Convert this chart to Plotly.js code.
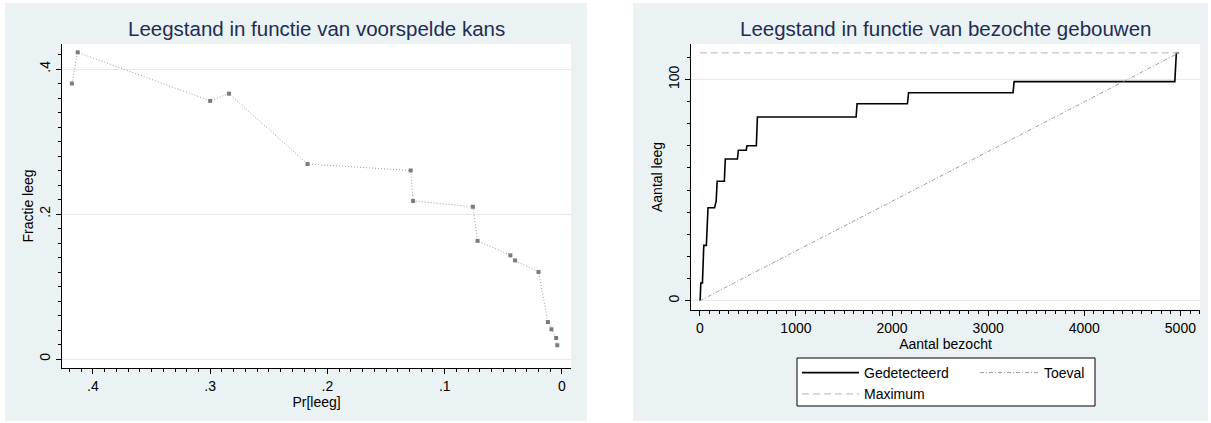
<!DOCTYPE html>
<html>
<head>
<meta charset="utf-8">
<script src="https://cdn.plot.ly/plotly-3.0.1.min.js"></script>
<style>html,body{margin:0;padding:0;background:#fff;}#chart{width:1211px;height:423px;}</style>
</head>
<body>
<div id="chart"></div>
<script>
// ---- data: left panel (voorspelde kans vs fractie leeg) ----
const predKans = [0.418, 0.413, 0.300, 0.284, 0.217, 0.129, 0.127, 0.076, 0.072, 0.044, 0.040, 0.020, 0.012, 0.009, 0.005, 0.004];
const fractieLeeg = [0.380, 0.423, 0.356, 0.366, 0.269, 0.260, 0.218, 0.210, 0.163, 0.143, 0.136, 0.120, 0.051, 0.041, 0.029, 0.019];

// ---- data: right panel (bezochte gebouwen vs aantal leeg) ----
const aantalBezocht = [3, 10, 27, 41, 68, 85, 153, 163, 170, 180, 255, 265, 391, 401, 483, 490, 588, 599, 1626, 1636, 2160, 2172, 3259, 3270, 4942, 4958, 4985];
const aantalLeeg    = [0, 8, 8, 25, 25, 42, 42, 45, 45, 54, 54, 64, 64, 68, 68, 70, 70, 83, 83, 89, 89, 94, 94, 99, 99, 112, 112];
const toevalX = [0, 4985];
const toevalY = [0, 112];
const maximumX = [0, 4985];
const maximumY = [112, 112];

// ---- tick labels ----
const leftXTickVals = [0.4, 0.3, 0.2, 0.1, 0];
const leftXTickText = ['.4', '.3', '.2', '.1', '0'];
const leftYTickVals = [0, 0.2, 0.4];
const leftYTickText = ['0', '.2', '.4'];
const rightXTickVals = [0, 1000, 2000, 3000, 4000, 5000];
const rightXTickText = ['0', '1000', '2000', '3000', '4000', '5000'];
const rightYTickVals = [0, 100];
const rightYTickText = ['0', '100'];

const titles = ['Leegstand in functie van voorspelde kans', 'Leegstand in functie van bezochte gebouwen'];

// ---- layout helpers ----
const W = 1211, H = 423;
const px = v => v / W;
const py = v => 1 - v / H;
const FONT = '"Liberation Sans", Arial, Helvetica, sans-serif';
const BG = '#eaf2f3';
const GRID = '#e3ebee';

const traces = [
  {
    x: predKans, y: fractieLeeg, xaxis: 'x', yaxis: 'y',
    type: 'scatter', mode: 'lines+markers', showlegend: false,
    line: {color: '#9a9a9a', width: 1, dash: '1px,2px'},
    marker: {symbol: 'square', size: 4, color: '#7c7c7c'}
  },
  {
    x: aantalBezocht, y: aantalLeeg, xaxis: 'x2', yaxis: 'y2',
    type: 'scatter', mode: 'lines', name: 'Gedetecteerd', legend: 'legend',
    line: {color: '#000000', width: 1.6}
  },
  {
    x: toevalX, y: toevalY, xaxis: 'x2', yaxis: 'y2',
    type: 'scatter', mode: 'lines', name: 'Toeval', legend: 'legend2',
    line: {color: '#9c9c9c', width: 1, dash: '4px,2px,1px,2px'}
  },
  {
    x: maximumX, y: maximumY, xaxis: 'x2', yaxis: 'y2',
    type: 'scatter', mode: 'lines', name: 'Maximum', legend: 'legend',
    line: {color: '#c4c4c4', width: 1.2, dash: '7px,4px'}
  }
];

function xAxis(domain, range, vals, text, minorDtick, titleText, anchor) {
  return {
    domain: domain, range: range, anchor: anchor,
    tickmode: 'array', tickvals: vals, ticktext: text,
    ticks: 'outside', ticklen: 5, tickwidth: 1, tickcolor: '#000000',
    minor: {ticks: 'outside', ticklen: 3, tickwidth: 1, tickcolor: '#000000', tick0: 0, dtick: minorDtick, showgrid: false},
    showline: true, linecolor: '#000000', linewidth: 1,
    showgrid: false, zeroline: false,
    tickfont: {family: FONT, size: 14, color: '#000'},
    title: {text: titleText, font: {family: FONT, size: 14, color: '#000'}, standoff: 0},
    fixedrange: true
  };
}
function yAxis(domain, range, vals, text, minorDtick, titleText, anchor) {
  return {
    domain: domain, range: range, anchor: anchor,
    tickmode: 'array', tickvals: vals, ticktext: text, tickangle: -90,
    ticks: 'outside', ticklen: 5, tickwidth: 1, tickcolor: '#000000',
    minor: {ticks: 'outside', ticklen: 3, tickwidth: 1, tickcolor: '#000000', tick0: 0, dtick: minorDtick, showgrid: false},
    showline: true, linecolor: '#000000', linewidth: 1,
    showgrid: true, gridcolor: GRID, gridwidth: 1, zeroline: false,
    tickfont: {family: FONT, size: 14, color: '#000'},
    title: {text: titleText, font: {family: FONT, size: 14, color: '#000'}, standoff: 0},
    fixedrange: true
  };
}

const gapShape = (x0, x1, y0, y1) => ({
  type: 'rect', xref: 'paper', yref: 'paper', layer: 'above',
  x0: px(x0), x1: px(x1), y0: py(y1), y1: py(y0), fillcolor: '#ffffff', line: {width: 0}
});

const layout = {
  width: W, height: H,
  margin: {l: 0, r: 0, t: 0, b: 0, pad: 0},
  paper_bgcolor: BG, plot_bgcolor: '#ffffff',
  font: {family: FONT, size: 14, color: '#000'},
  xaxis: xAxis([px(62), px(571)], [0.4264, -0.0077], leftXTickVals, leftXTickText, 0.01, 'Pr[leeg]', 'y'),
  yaxis: yAxis([py(368), py(44)], [-0.0124, 0.4345], leftYTickVals, leftYTickText, 0.02, 'Fractie leeg', 'x'),
  xaxis2: xAxis([px(691), px(1200)], [-92, 5204], rightXTickVals, rightXTickText, 100, 'Aantal bezocht', 'y2'),
  yaxis2: yAxis([py(310), py(44)], [-4.2, 116.0], rightYTickVals, rightYTickText, 10, 'Aantal leeg', 'x2'),
  legend: {
    x: px(797), y: py(357), xanchor: 'left', yanchor: 'top',
    orientation: 'v', bgcolor: 'rgba(0,0,0,0)', borderwidth: 0,
    itemwidth: 57, font: {family: FONT, size: 14, color: '#000'},
    traceorder: 'normal', itemclick: false, itemdoubleclick: false
  },
  legend2: {
    x: px(975), y: py(357), xanchor: 'left', yanchor: 'top',
    orientation: 'v', bgcolor: 'rgba(0,0,0,0)', borderwidth: 0,
    itemwidth: 59, font: {family: FONT, size: 14, color: '#000'},
    itemclick: false, itemdoubleclick: false
  },
  shapes: [
    gapShape(0, 5, 0, 423),
    gapShape(587, 633, 0, 423),
    gapShape(1208, 1211, 0, 423),
    gapShape(0, 1211, 0, 3),
    gapShape(0, 1211, 421, 423),
    {type: 'rect', xref: 'paper', yref: 'paper', layer: 'above',
     x0: px(797), x1: px(1095), y0: py(406), y1: py(358), fillcolor: '#ffffff', line: {color: '#000', width: 1}}
  ],
  annotations: [
    {text: titles[0], xref: 'paper', yref: 'paper', x: px(316.5), y: py(29), xanchor: 'center', yanchor: 'middle',
     showarrow: false, font: {family: FONT, size: 20.5, color: '#1f2d55'}},
    {text: titles[1], xref: 'paper', yref: 'paper', x: px(945.5), y: py(29), xanchor: 'center', yanchor: 'middle',
     showarrow: false, font: {family: FONT, size: 20.5, color: '#1f2d55'}}
  ]
};

Plotly.newPlot('chart', traces, layout, {displayModeBar: false});
</script>
</body>
</html>
